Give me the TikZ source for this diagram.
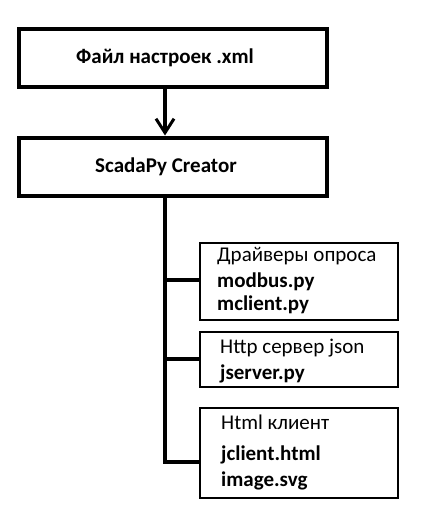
\documentclass[tikz,border=0pt]{standalone}
\usepackage{fontspec}
\setmainfont{Carlito}
\usetikzlibrary{arrows.meta}
\begin{document}
\begin{tikzpicture}[x=1pt,y=-1pt,
  bigbox/.style={draw, line width=4pt, minimum width=308pt, minimum height=58pt, inner sep=0pt},
  bigtxt/.style={inner sep=0pt, font=\fontsize{21}{23}\selectfont\bfseries},
  smallbox/.style={draw, line width=1.2pt, minimum width=198pt, inner sep=0pt},
  ttl/.style={anchor=west, inner sep=0pt, font=\fontsize{21}{23}\selectfont},
  fil/.style={anchor=west, inner sep=0pt, font=\fontsize{21}{23}\selectfont\bfseries},
  thick4/.style={line width=4pt}
]
\useasboundingbox (0,0) rectangle (429,525);
\node[bigbox] (cfg) at (173,58) {};
\node[bigtxt] (cfgt) at (165,58) {Файл настроек .xml};
\node[bigbox] (cre) at (173,166.5) {};
\node[bigtxt] (cret) at (166,166.5) {ScadaPy Creator};
\draw[thick4, -{Straight Barb[length=14pt,width=18pt,line width=3pt]}] (cfg.south) ++(-8,0) coordinate (a0) -- (a0 |- cre.north);

\node[smallbox, minimum height=77pt] (b1) at (299,281.5) {};
\node[smallbox, minimum height=55pt] (b2) at (299,359.5) {};
\node[smallbox, minimum height=90pt] (b3) at (299,453) {};

\node[ttl] (t1) at (217,256) {Драйверы опроса};
\node[fil] (f1a) at (217,282) {modbus.py};
\node[fil] (f1b) at (217,305) {mclient.py};
\node[ttl] (t2) at (220,348) {Http сервер json};
\node[fil] (f2a) at (220,374) {jserver.py};
\node[ttl] (t3) at (221,422) {Html клиент};
\node[fil] (f3a) at (221,455) {jclient.html};
\node[fil] (f3b) at (221,481) {image.svg};

\coordinate (tr) at (165,195);
\coordinate (j1) at (165,280);
\coordinate (j2) at (165,359);
\coordinate (j3) at (165,462);
\draw[thick4] (tr) -- ([yshift=2pt]j3);
\draw[thick4] ([xshift=-2pt]j1) -- (j1 -| b1.west);
\draw[thick4] ([xshift=-2pt]j2) -- (j2 -| b2.west);
\draw[thick4] ([xshift=-2pt]j3) -- (j3 -| b3.west);
\end{tikzpicture}
\end{document}
